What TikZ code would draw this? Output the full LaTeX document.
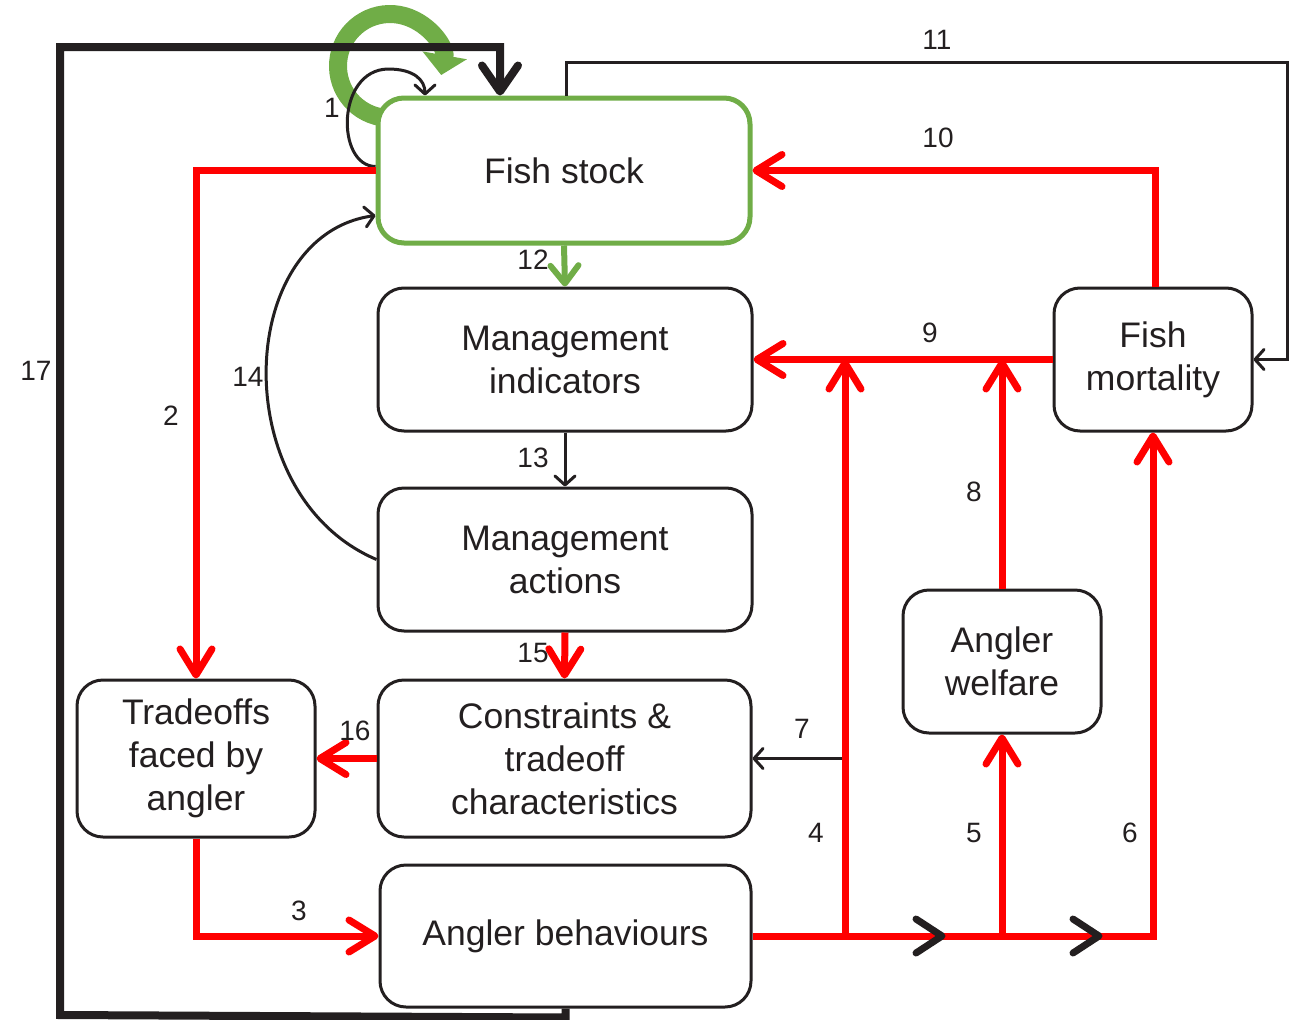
\documentclass[tikz,border=0pt]{standalone}
\usepackage{fontspec}
\setmainfont{Liberation Sans}
\usetikzlibrary{arrows.meta,decorations.markings}
\definecolor{fsgreen}{HTML}{70AD47}
\definecolor{ink}{HTML}{231F20}
\begin{document}
\begin{tikzpicture}[x=1pt,y=-1pt,
  box/.style={draw=ink, line width=3pt, rounded corners=26pt, fill=white, align=center,
    font=\fontsize{35.5}{43}\selectfont, text=ink, inner sep=0pt},
  lbl/.style={font=\fontsize{28}{32}\selectfont, text=ink, inner sep=0pt},
  redline/.style={draw=red, line width=7pt},
  redarrow/.style={redline, -{Straight Barb[length=26pt,width=32pt,round]}},
  thinarrow/.style={draw=ink, line width=3pt, -{Straight Barb[length=9pt,width=20pt,round]}},
  greenarrow/.style={draw=fsgreen, line width=6pt, -{Straight Barb[length=18pt,width=28pt,round]}},
  bigarrow/.style={draw=ink, line width=8pt, -{Straight Barb[length=26pt,width=36pt,round]}},
  chevrons/.style={postaction={decorate}, decoration={markings,
    mark=at position 193pt with {\arrow[ink]{Straight Barb[length=26pt,width=34pt,round]}},
    mark=at position 350pt with {\arrow[ink]{Straight Barb[length=26pt,width=34pt,round]}}}}
]
\useasboundingbox (0,0) rectangle (1299,1020);

% green circular arrow (behind Fish stock)
\draw[fsgreen, line width=18pt, -{Triangle[length=20pt,width=44pt]}]
  (390,66) ++(100:52) arc[start angle=100, end angle=370, radius=52];

% boxes
\node[box, draw=fsgreen, line width=5pt, minimum width=372pt, minimum height=145pt] (FS) at (564,170.5) {Fish stock};
\node[box, minimum width=374pt, minimum height=143pt] (MI) at (565,359.5) {Management\\indicators};
\node[box, minimum width=374pt, minimum height=143pt] (MA) at (565,559.5) {Management\\actions};
\node[box, minimum width=373pt, minimum height=157pt] (CT) at (564.5,758.5) {Constraints \&\\tradeoff\\characteristics};
\node[box, minimum width=371pt, minimum height=142pt] (AB) at (565.5,936) {Angler behaviours};
\node[box, minimum width=238pt, minimum height=157pt] (TF) at (196,758.5) {Tradeoffs\\faced by\\angler};
\node[box, minimum width=198pt, minimum height=143pt] (AW) at (1002,661.5) {Angler\\welfare};
\node[box, minimum width=198pt, minimum height=143pt] (FM) at (1153,359.5) {Fish\\mortality};

\coordinate (j4) at (845,936);

% 17
\draw[bigarrow] (AB.south) -- ++(0,9) -- (60,1015) -- (60,47) -| ([xshift=-64pt]FS.north);
% 11
\draw[thinarrow] ([xshift=2pt]FS.north) -- (566,62) -- (1287,62) |- (FM.east);
% 1 self loop
\draw[thinarrow] ([yshift=4pt]FS.west) .. controls (336,166) and (336,70) .. (388,69)
  .. controls (414,69) and (425,80) .. ([xshift=-139pt]FS.north);
% 14
\draw[thinarrow] (MA.west) .. controls (225,495) and (235,235) .. ([yshift=-45pt]FS.west);
% 12, 13
\draw[greenarrow] (FS.south) -- (MI.north);
\draw[thinarrow] (MI.south) -- (MA.north);
% 7
\draw[thinarrow] (j4 |- CT.east) -- (CT.east);
% red connectors
\draw[redarrow] ([xshift=2pt]FM.north) |- (FS.east);
\draw[redarrow] (FM.west) -- (MI.east);
\draw[redarrow] (MA.south) -- (CT.north);
\draw[redarrow] (CT.west) -- (TF.east);
\draw[redarrow] (FS.west) -| (TF.north);
\draw[redarrow] (TF.south) |- (AB.west);
\draw[redarrow] (j4) -- (j4 |- MI.east);
\draw[redarrow] (AW.south |- AB.east) -- (AW.south);
\draw[redarrow] (AW.north) -- (AW.north |- MI.east);
\draw[redarrow, chevrons] (AB.east) -| (FM.south);

% labels
\node[lbl] (l1) at (332,108) {1};
\node[lbl] (l2) at (171,416) {2};
\node[lbl] (l3) at (299,911) {3};
\node[lbl] (l4) at (816,833) {4};
\node[lbl] (l5) at (974,833) {5};
\node[lbl] (l6) at (1130,833) {6};
\node[lbl] (l7) at (802,729) {7};
\node[lbl] (l8) at (974,492) {8};
\node[lbl] (l9) at (930,333) {9};
\node[lbl] (l10) at (938,138) {10};
\node[lbl] (l11) at (937,40) {11};
\node[lbl] (l12) at (533,260) {12};
\node[lbl] (l13) at (533,458) {13};
\node[lbl] (l14) at (248,377) {14};
\node[lbl] (l15) at (533,653) {15};
\node[lbl] (l16) at (355,731) {16};
\node[lbl] (l17) at (36,371) {17};
\end{tikzpicture}
\end{document}
